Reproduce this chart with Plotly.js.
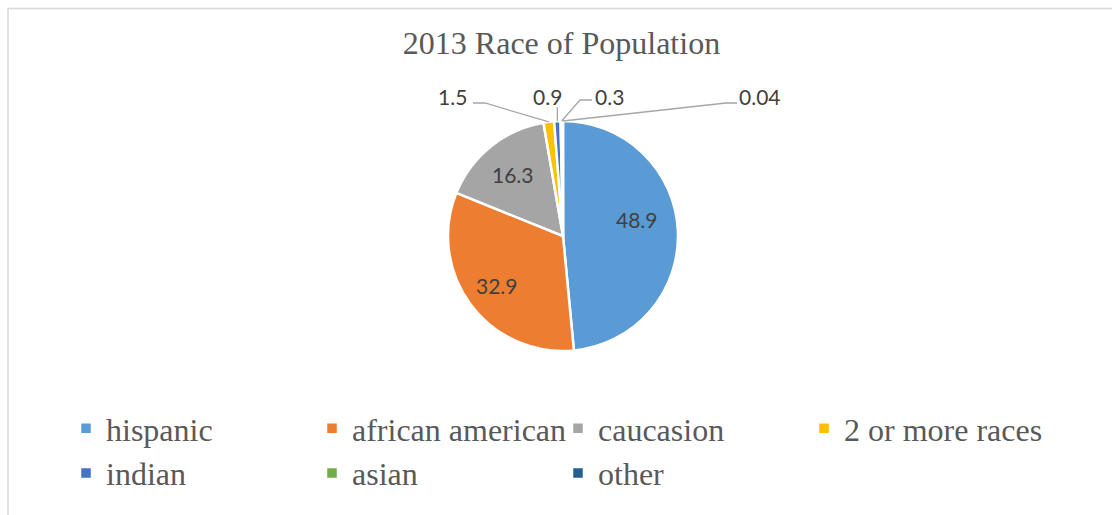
<!DOCTYPE html>
<html>
<head>
<meta charset="utf-8">
<script src="https://cdn.plot.ly/plotly-3.0.1.min.js"></script>
<style>
html,body{margin:0;padding:0;background:#fff;}
#chart{width:1112px;height:515px;}
</style>
</head>
<body>
<div id="chart"></div>
<script>
// ---- data ----
const categories = ["hispanic", "african american", "caucasion", "2 or more races", "indian", "asian", "other"];
const values = [48.9, 32.9, 16.3, 1.5, 0.9, 0.3, 0.04];
const valueLabels = ["48.9", "32.9", "16.3", "1.5", "0.9", "0.3", "0.04"];
const sliceColors = ["#5B9BD5", "#ED7D31", "#A5A5A5", "#FFC000", "#4472C4", "#70AD47", "#255E91"];

// ---- layout constants (pixels) ----
const W = 1112, H = 515;
const cx = 563, cy = 236, R = 115;
const px = x => x / W;
const py = y => 1 - y / H;
const SERIF = 'Liberation Serif';
const LABELFONT = 'Lato';

// inside labels: radius fraction and small nudges (layout only)
const insideCfg = {
  0: {rf: 0.70, dx: -6, dy: -13},
  1: {rf: 0.72, dx: 0, dy: 0},
  2: {rf: 0.69, dx: 0, dy: 0}
};
// outside labels: label centre and leader path elbow (layout only)
const outsideCfg = {
  3: {lx: 452, ly: 97, path: [[473, 103], [485, 103]]},
  4: {lx: 547, ly: 97, path: [null, 107]},
  5: {lx: 609, ly: 97, path: [[592, 100], [580, 100]]},
  6: {lx: 760, ly: 97, path: [[737, 103], [726, 103]]}
};

// slice mid angles (clockwise from 12 o'clock) derived from the values
const total = values.reduce((a, b) => a + b, 0);
let acc = 0;
const midAngles = values.map(v => { const m = (acc + v / 2) / total * 2 * Math.PI; acc += v; return m; });

const labelFont = {family: LABELFONT, size: 21, color: '#404040'};
const shapes = [{
  type: 'rect', xref: 'paper', yref: 'paper',
  x0: px(8), x1: 1.2, y0: -0.2, y1: py(8.5),
  line: {color: '#D9D9D9', width: 1.5}, fillcolor: 'rgba(0,0,0,0)', layer: 'below'
}];
const annotations = [];
Object.keys(insideCfg).forEach(k => {
  const i = +k, c = insideCfg[k];
  const lx = cx + c.rf * R * Math.sin(midAngles[i]) + c.dx;
  const ly = cy - c.rf * R * Math.cos(midAngles[i]) + c.dy;
  annotations.push({
    xref: 'paper', yref: 'paper', x: px(lx), y: py(ly), xanchor: 'center', yanchor: 'middle',
    text: valueLabels[i], showarrow: false, font: labelFont
  });
});
Object.keys(outsideCfg).forEach(k => {
  const i = +k, c = outsideCfg[k];
  const ex = cx + R * Math.sin(midAngles[i]);
  const ey = cy - R * Math.cos(midAngles[i]);
  let pts;
  if (c.path[0] === null) pts = [[ex, c.path[1]], [ex, ey]];
  else pts = [c.path[0], c.path[1], [ex, ey]];
  const d = pts.map((p, j) => (j ? 'L' : 'M') + px(p[0]) + ',' + py(p[1])).join(' ');
  shapes.push({type: 'path', xref: 'paper', yref: 'paper', path: d, line: {color: '#A6A6A6', width: 1.3}});
  annotations.push({
    xref: 'paper', yref: 'paper', x: px(c.lx), y: py(c.ly), xanchor: 'center', yanchor: 'middle',
    text: valueLabels[i], showarrow: false, font: labelFont
  });
});

const trace = {
  type: 'pie',
  labels: categories,
  values: values,
  sort: false,
  direction: 'clockwise',
  rotation: 0,
  marker: {colors: sliceColors, line: {color: '#FFFFFF', width: 2.5}},
  textinfo: 'none',
  hoverinfo: 'label+value',
  domain: {x: [px(cx - R), px(cx + R)], y: [py(cy + R), py(cy - R)]}
};

const layout = {
  width: W, height: H,
  margin: {l: 0, r: 0, t: 0, b: 0},
  paper_bgcolor: '#FFFFFF',
  title: {
    text: '2013 Race of Population',
    font: {family: SERIF, size: 32, color: '#595959'},
    x: px(561.5), xanchor: 'center', xref: 'paper',
    y: py(43), yanchor: 'middle', yref: 'paper'
  },
  showlegend: true,
  legend: {
    orientation: 'h',
    x: px(66), xanchor: 'left',
    y: py(401), yanchor: 'top',
    entrywidth: 201, entrywidthmode: 'pixels',
    font: {family: SERIF, size: 32, color: '#595959'},
    bgcolor: 'rgba(0,0,0,0)'
  },
  shapes: shapes,
  annotations: annotations
};

Plotly.newPlot('chart', [trace], layout, {displayModeBar: false, staticPlot: true});
</script>
</body>
</html>
